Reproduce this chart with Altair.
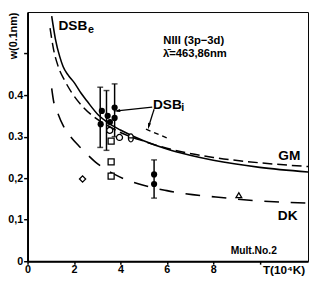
import altair as alt
import pandas as pd

FONT = "Liberation Sans"

# ---- theory curves (T in 10^4 K, w in 0.1 nm) ----
dsbe_T = [1.04, 1.2, 1.39, 1.53, 1.75, 2.01, 2.3, 2.57, 3.05, 3.5, 4.0, 5.0, 6.0, 7.0, 8.0, 10.0, 12.08]
dsbe_w = [0.59, 0.535, 0.492, 0.469, 0.448, 0.43, 0.405, 0.385, 0.352, 0.332, 0.316, 0.29, 0.27, 0.255, 0.243, 0.226, 0.215]

gm_T = [0.97, 1.12, 1.32, 1.6, 1.88, 2.43, 2.92, 3.5, 4.0, 5.0, 6.0, 8.0, 10.0, 12.08]
gm_w = [0.561, 0.51, 0.469, 0.435, 0.408, 0.369, 0.345, 0.325, 0.31, 0.289, 0.272, 0.25, 0.237, 0.228]

dk_T = [1.04, 1.11, 1.32, 1.53, 1.8, 2.22, 2.43, 2.9, 3.75, 4.8, 6.0, 8.6, 9.8, 12.08]
dk_w = [0.416, 0.389, 0.354, 0.327, 0.304, 0.277, 0.265, 0.24, 0.209, 0.186, 0.17, 0.152, 0.146, 0.14]

dsbi_T = [5.1, 6.0]
dsbi_w = [0.318, 0.297]

# ---- measurements ----
filled_T = [3.2, 3.45, 3.75, 3.15, 3.55, 3.75, 5.45, 5.45]
filled_w = [0.362, 0.35, 0.37, 0.33, 0.335, 0.345, 0.209, 0.186]

ocirc_T = [3.54, 3.96]
ocirc_w = [0.315, 0.298]

theta_T = [4.45]
theta_w = [0.297]

square_T = [3.6, 3.6, 3.6]
square_w = [0.289, 0.239, 0.205]

diamond_T = [2.37]
diamond_w = [0.198]

tri_T = [9.1]
tri_w = [0.159]

err_T = [3.13, 3.4, 3.75, 5.45]
err_lo = [0.274, 0.267, 0.30, 0.152]
err_hi = [0.419, 0.411, 0.427, 0.244]

# ---- labels ----
lab_text = ["DSB", "e", "NIII (3p\u22123d)", "\u03bb\u0304=463,86nm", "DSB", "i", "GM", "DK", "Mult.No.2"]
lab_T = [1.33, 2.6, 5.85, 5.83, 5.4, 6.62, 10.8, 10.78, 8.75]
lab_w = [0.566, 0.556, 0.531, 0.499, 0.377, 0.368, 0.253, 0.108, 0.024]
lab_size = [14, 11, 11.5, 11.5, 14, 11, 14, 14, 10.5]

# ---- arrows (from DSBi label) ----
arr_T0 = [5.37, 5.45]
arr_w0 = [0.371, 0.366]
arr_T1 = [3.85, 5.22]
arr_w1 = [0.362, 0.325]
arr_angle = [262, 194]

x_ticks = [0, 2, 4, 6, 8, 10]
x_labels = ["0", "2", "4", "6", "8", ""]
y_ticks = [0, 0.1, 0.2, 0.3, 0.4, 0.5]
y_labels = ["0", "0,1", "0,2", "0.3", "0.4", ""]

xs = alt.Scale(domain=[0, 12.08], nice=False, zero=False)
ys = alt.Scale(domain=[0, 0.6], nice=False, zero=False)

def arr_js(lst):
    return "[" + ",".join("'" + s + "'" for s in lst) + "]"

x_axis = alt.Axis(
    values=x_ticks, labelExpr=arr_js(x_labels) + "[round(datum.value/2)]",
    title="T(10\u2074K)", titleX=262, titleY=9, titleAlign="center", titleBaseline="middle",
    titleFont=FONT, titleFontSize=12, titleFontWeight="bold", titleColor="black",
    labelFont=FONT, labelFontSize=11, labelFontWeight="bold", labelColor="black",
    labelFlush=False, labelPadding=0, tickSize=3, tickColor="black", tickWidth=1.5,
    domainColor="black", domainWidth=2, grid=False,
)
y_axis = alt.Axis(
    values=y_ticks, labelExpr=arr_js(y_labels) + "[round(datum.value*10)]",
    title="w(0.1nm)", titleAngle=270, titleX=-14, titleY=24, titleAlign="center",
    titleBaseline="middle", titleFont=FONT, titleFontSize=11, titleFontWeight="bold",
    titleColor="black",
    labelFont=FONT, labelFontSize=11, labelFontWeight="bold", labelColor="black",
    labelPadding=1, tickSize=4, tickColor="black", tickWidth=1.5,
    domainColor="black", domainWidth=2, grid=False,
)

def line_layer(T, w, dash=None, width=1.5):
    df = pd.DataFrame({"T": T, "w": w})
    kw = dict(color="black", strokeWidth=width, interpolate="monotone")
    if dash:
        kw["strokeDash"] = dash
    return alt.Chart(df).mark_line(**kw).encode(
        x=alt.X("T:Q", scale=xs, axis=x_axis),
        y=alt.Y("w:Q", scale=ys, axis=y_axis),
    )

def point_layer(T, w, shape, filled, size=40):
    df = pd.DataFrame({"T": T, "w": w})
    return alt.Chart(df).mark_point(
        shape=shape, filled=filled, size=size, color="black",
        strokeWidth=1.3, opacity=1,
        fill="black" if filled else "white",
    ).encode(x=alt.X("T:Q", scale=xs), y=alt.Y("w:Q", scale=ys))

curves = [
    line_layer(dsbe_T, dsbe_w, None, 1.6),
    line_layer(gm_T, gm_w, [10, 5], 1.5),
    line_layer(dk_T, dk_w, [15, 12], 1.6),
    line_layer(dsbi_T, dsbi_w, [5, 4], 1.4),
]

err_df = pd.DataFrame({"T": err_T, "lo": err_lo, "hi": err_hi})
err_rule = alt.Chart(err_df).mark_rule(color="black", strokeWidth=1.5).encode(
    x=alt.X("T:Q", scale=xs), y=alt.Y("lo:Q", scale=ys), y2="hi:Q"
)
err_cap_lo = alt.Chart(err_df).mark_tick(color="black", thickness=1.5, size=6, orient="horizontal").encode(
    x=alt.X("T:Q", scale=xs), y=alt.Y("lo:Q", scale=ys)
)
err_cap_hi = alt.Chart(err_df).mark_tick(color="black", thickness=1.5, size=6, orient="horizontal").encode(
    x=alt.X("T:Q", scale=xs), y=alt.Y("hi:Q", scale=ys)
)

theta_shape = "M0,-1.3A0.8,1.3 0 1,1 0,1.3A0.8,1.3 0 1,1 0,-1.3M-0.8,0L0.8,0"
points = [
    point_layer(square_T, square_w, "square", False, 38),
    point_layer(ocirc_T, ocirc_w, "circle", False, 38),
    point_layer(theta_T, theta_w, theta_shape, False, 40),
    point_layer(diamond_T, diamond_w, "diamond", False, 40),
    point_layer(tri_T, tri_w, "triangle-up", False, 35),
    point_layer(filled_T, filled_w, "circle", True, 40),
]

arr_df = pd.DataFrame({"T0": arr_T0, "w0": arr_w0, "T1": arr_T1, "w1": arr_w1, "ang": arr_angle})
arr_lines = alt.Chart(arr_df).mark_rule(color="black", strokeWidth=1.3).encode(
    x=alt.X("T0:Q", scale=xs), y=alt.Y("w0:Q", scale=ys), x2="T1:Q", y2="w1:Q"
)
arr_heads = alt.Chart(arr_df).mark_point(
    shape="M0,-1L0.45,1L-0.45,1Z", filled=True, color="black", size=45, opacity=1
).encode(
    x=alt.X("T1:Q", scale=xs), y=alt.Y("w1:Q", scale=ys),
    angle=alt.Angle("ang:Q", scale=None),
)

lab_df = pd.DataFrame({"text": lab_text, "T": lab_T, "w": lab_w, "fs": lab_size})
labels = alt.Chart(lab_df).mark_text(
    align="left", baseline="middle", font=FONT, fontWeight="bold", color="black"
).encode(
    x=alt.X("T:Q", scale=xs), y=alt.Y("w:Q", scale=ys),
    text="text:N", size=alt.Size("fs:Q", scale=None, legend=None),
)

chart = alt.layer(
    *curves, err_rule, err_cap_lo, err_cap_hi, *points, arr_lines, arr_heads, labels
).properties(
    width=287, height=255,
    padding={"left": 20, "top": 1, "right": 1, "bottom": 13},
    autosize=alt.AutoSizeParams(type="none"),
    background="white",
).configure_view(stroke="black", strokeWidth=1)

chart.save("out.html", embed_options={"renderer": "svg", "actions": False})
